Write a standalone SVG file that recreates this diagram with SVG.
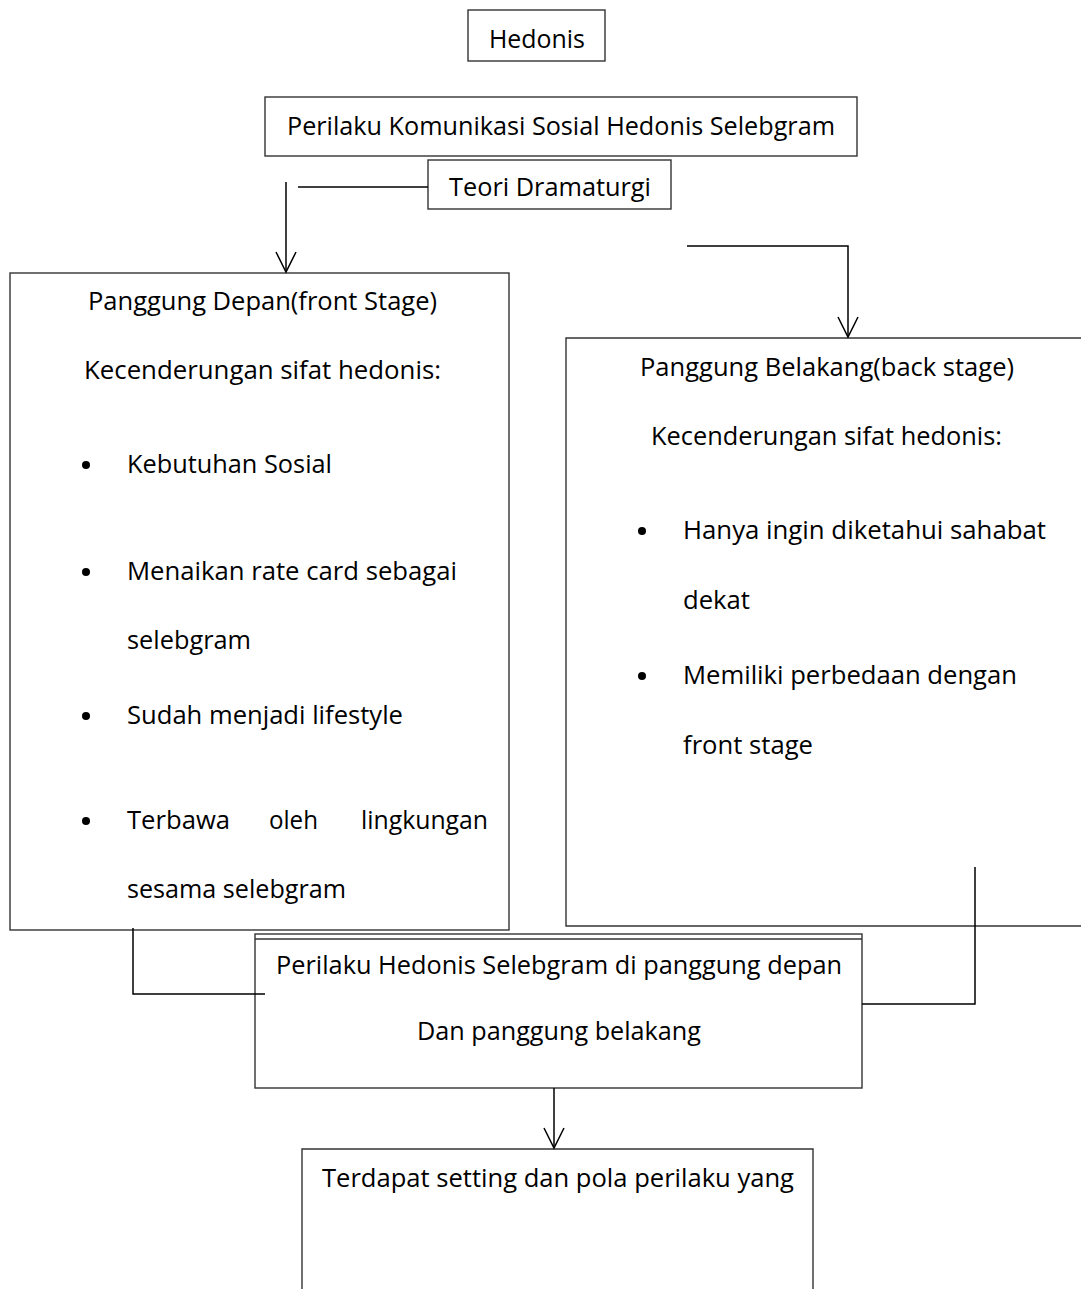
<svg xmlns="http://www.w3.org/2000/svg" width="1081" height="1289" viewBox="0 0 1081 1289">
<style>
.box{fill:#fff;stroke:#333;stroke-width:1.4}
.ln{fill:none;stroke:#000;stroke-width:1.5}
text{font-family:"Open Sans","Liberation Sans",sans-serif;font-size:25px;fill:#000}
</style>
<defs>
<marker id="arr" markerUnits="userSpaceOnUse" markerWidth="24" markerHeight="24" viewBox="-22 -12 24 24" refX="0" refY="0" orient="auto">
<path d="M-20,-10 L0,0 L-20,10" fill="none" stroke="#000" stroke-width="1.5"/>
</marker>
</defs>
<rect width="1081" height="1289" fill="#fff"/>
<g id="hedonis">
<rect class="box" x="468" y="10" width="137" height="51"/>
<text x="489" y="48" textLength="96" lengthAdjust="spacingAndGlyphs">Hedonis</text>
</g>
<g id="perilaku-komunikasi">
<rect class="box" x="265" y="97" width="592" height="59"/>
<text x="287" y="135" textLength="548" lengthAdjust="spacingAndGlyphs">Perilaku Komunikasi Sosial Hedonis Selebgram</text>
</g>
<g id="teori">
<rect class="box" x="428" y="160" width="243" height="49"/>
<text x="449" y="196" textLength="202" lengthAdjust="spacingAndGlyphs">Teori Dramaturgi</text>
</g>
<g id="front-stage">
<rect class="box" x="10" y="273" width="499" height="657"/>
<text x="88" y="310" textLength="349" lengthAdjust="spacingAndGlyphs">Panggung Depan(front Stage)</text>
<text x="84" y="379" textLength="357" lengthAdjust="spacingAndGlyphs">Kecenderungan sifat hedonis:</text>
<circle cx="86" cy="465" r="4"/>
<text x="127" y="473" textLength="205" lengthAdjust="spacingAndGlyphs">Kebutuhan Sosial</text>
<circle cx="86" cy="572" r="4"/>
<text x="127" y="580" textLength="330" lengthAdjust="spacingAndGlyphs">Menaikan rate card sebagai</text>
<text x="127" y="649" textLength="124" lengthAdjust="spacingAndGlyphs">selebgram</text>
<circle cx="86" cy="716" r="4"/>
<text x="127" y="724" textLength="276" lengthAdjust="spacingAndGlyphs">Sudah menjadi lifestyle</text>
<circle cx="86" cy="821" r="4"/>
<text x="127" y="829" textLength="103" lengthAdjust="spacingAndGlyphs">Terbawa</text>
<text x="269" y="829" textLength="49" lengthAdjust="spacingAndGlyphs">oleh</text>
<text x="361" y="829" textLength="127" lengthAdjust="spacingAndGlyphs">lingkungan</text>
<text x="127" y="898" textLength="219" lengthAdjust="spacingAndGlyphs">sesama selebgram</text>
</g>
<g id="back-stage">
<path class="box" d="M1081,338 L566,338 L566,926 L1081,926"/>
<text x="640" y="376" textLength="374" lengthAdjust="spacingAndGlyphs">Panggung Belakang(back stage)</text>
<text x="651" y="445" textLength="351" lengthAdjust="spacingAndGlyphs">Kecenderungan sifat hedonis:</text>
<circle cx="642" cy="531" r="4"/>
<text x="683" y="539" textLength="363" lengthAdjust="spacingAndGlyphs">Hanya ingin diketahui sahabat</text>
<text x="683" y="609" textLength="67" lengthAdjust="spacingAndGlyphs">dekat</text>
<circle cx="642" cy="676" r="4"/>
<text x="683" y="684" textLength="334" lengthAdjust="spacingAndGlyphs">Memiliki perbedaan dengan</text>
<text x="683" y="754" textLength="130" lengthAdjust="spacingAndGlyphs">front stage</text>
</g>
<g id="perilaku-hedonis">
<rect class="box" x="255" y="934" width="607" height="154"/>
<line x1="255" y1="939" x2="862" y2="939" stroke="#333" stroke-width="1.4"/>
<text x="276" y="974" textLength="566" lengthAdjust="spacingAndGlyphs">Perilaku Hedonis Selebgram di panggung depan</text>
<text x="417" y="1040" textLength="284" lengthAdjust="spacingAndGlyphs">Dan panggung belakang</text>
</g>
<g id="setting">
<path class="box" d="M302,1289 L302,1149 L813,1149 L813,1289"/>
<text x="322" y="1187" textLength="472" lengthAdjust="spacingAndGlyphs">Terdapat setting dan pola perilaku yang</text>
</g>
<g id="connectors">
<line class="ln" x1="298" y1="187" x2="428" y2="187"/>
<line class="ln" x1="286" y1="182" x2="286" y2="272" marker-end="url(#arr)"/>
<polyline class="ln" points="687,246 848,246 848,337" marker-end="url(#arr)"/>
<polyline class="ln" points="133,928 133,994 265,994"/>
<polyline class="ln" points="975,867 975,1004 862,1004"/>
<line class="ln" x1="554" y1="1088" x2="554" y2="1148" marker-end="url(#arr)"/>
</g>
</svg>
